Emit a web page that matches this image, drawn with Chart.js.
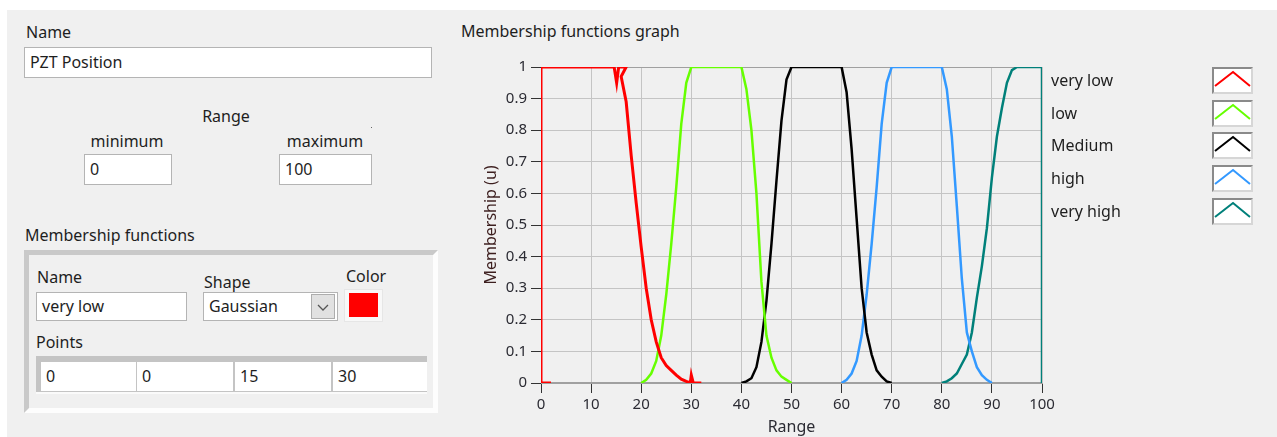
<!DOCTYPE html>
<html>
<head>
<meta charset="utf-8">
<script src="https://cdn.jsdelivr.net/npm/chart.js@4.4.1/dist/chart.umd.min.js"></script>
<style>
  body { margin: 0; width: 1277px; height: 437px; overflow: hidden; background: #fff;
         font-family: "Noto Sans", sans-serif; font-size: 16px; color: #1e1e1e; }
  #panel { position: absolute; left: 7px; top: 10px; right: 0; bottom: 0; background: #f0f0f0; }
  .lbl { position: absolute; white-space: nowrap; line-height: 18px; }
  .ctr { transform: translateX(-50%); }
  .box { position: absolute; background: #fff; border: 1px solid #b4b4b4; box-sizing: border-box;
         padding-left: 5px; white-space: nowrap; }
  #cluster { position: absolute; left: 24px; top: 250px; width: 414px; height: 163px; box-sizing: border-box;
             border: 5px solid; border-color: #c9c9c9 #fdfdfd #fdfdfd #c9c9c9; }
  #arr { position: absolute; left: 36px; top: 356px; width: 391px; height: 38px; background: #c4c4c4;
         border-bottom: 2px solid #fafafa; box-sizing: border-box; }
  .cell { position: absolute; top: 6px; height: 29px; background: #fff; line-height: 29px; padding-left: 5px; box-sizing: border-box; }
  #chartBox { position: absolute; left: 456px; top: 40px; width: 821px; height: 397px; }
  .lgName { position: absolute; left: 1051px; white-space: nowrap; line-height: 18px; }
  .lgIcon { position: absolute; left: 1212px; width: 41px; height: 27px; box-sizing: border-box; background: #fff;
            border: 2px solid; border-color: #8a8a8a #d6d6d6 #d6d6d6 #8a8a8a; }
</style>
</head>
<body>
<div id="panel"></div>

<div class="lbl" style="left:26px;top:23px">Name</div>
<div class="box" style="left:24px;top:47px;width:408px;height:31px;line-height:29px">PZT Position</div>

<div class="lbl ctr" style="left:226px;top:107px">Range</div>
<div class="lbl ctr" style="left:127px;top:132px">minimum</div>
<div class="box" style="left:84px;top:154px;width:88px;height:31px;line-height:29px">0</div>
<div class="lbl ctr" style="left:325px;top:132px">maximum</div>
<div class="box" style="left:279px;top:154px;width:93px;height:31px;line-height:29px">100</div>
<div style="position:absolute;left:371px;top:127px;width:1px;height:1px;background:#666"></div>

<div class="lbl" style="left:25px;top:226px">Membership functions</div>
<div id="cluster"></div>
<div class="lbl" style="left:37px;top:268px">Name</div>
<div class="box" style="left:36px;top:292px;width:151px;height:29px;line-height:27px">very low</div>
<div class="lbl" style="left:204px;top:273px">Shape</div>
<div class="box" style="left:203px;top:292px;width:135px;height:29px;line-height:27px">Gaussian</div>
<div style="position:absolute;left:311px;top:294px;width:24px;height:25px;box-sizing:border-box;background:#e1e1e1;border:1px solid #adadad">
  <svg width="22" height="23" style="position:absolute;left:0;top:0"><polyline points="6,10 11,15 16,10" fill="none" stroke="#555" stroke-width="1.3"/></svg>
</div>
<div class="lbl" style="left:346px;top:267px">Color</div>
<div style="position:absolute;left:344px;top:289px;width:39px;height:33px;box-sizing:border-box;background:#f8f8f8;border:1px solid #e6e6e6"></div>
<div style="position:absolute;left:349px;top:293px;width:29px;height:24px;background:#ff0000"></div>
<div class="lbl" style="left:36px;top:333px">Points</div>
<div id="arr">
  <div class="cell" style="left:5px;width:95px">0</div>
  <div class="cell" style="left:101px;width:96px">0</div>
  <div class="cell" style="left:199px;width:96px">15</div>
  <div class="cell" style="left:297px;width:94px">30</div>
</div>

<div class="lbl" style="left:461px;top:22px">Membership functions graph</div>
<div id="chartBox"><canvas id="mfChart"></canvas></div>
<div id="legend"></div>

<script>
// membership function curves
const seriesNames = ['very low', 'low', 'Medium', 'high', 'very high'];
const seriesColors = ['#ff0000', '#66ff00', '#000000', '#3399ff', '#00807a'];

const veryLowX = [2, 0, 0, 14.6, 15.1, 15.5, 17, 16, 17, 18, 19, 20, 21, 22, 23, 24, 25, 26, 27, 28, 29, 29.8, 30, 30.4, 32];
const veryLowY = [0, 0, 1, 1, 0.95, 1, 1, 0.97, 0.89, 0.72, 0.57, 0.43, 0.3, 0.2, 0.13, 0.08, 0.055, 0.04, 0.025, 0.012, 0.005, 0, 0.025, 0, 0];

const lowX = [20, 21, 22, 23, 24, 25, 26, 27, 28, 29, 30, 40, 41, 42, 43, 44, 45, 46, 47, 48, 49, 50];
const lowY = [0, 0.01, 0.03, 0.07, 0.15, 0.28, 0.44, 0.62, 0.82, 0.95, 1, 1, 0.93, 0.8, 0.6, 0.32, 0.15, 0.08, 0.04, 0.02, 0.01, 0];

const mediumX = [40, 41, 42, 43, 44, 45, 46, 47, 48, 49, 50, 60, 61, 62, 63, 64, 65, 66, 67, 68, 69, 70];
const mediumY = [0, 0.005, 0.015, 0.05, 0.13, 0.26, 0.44, 0.64, 0.83, 0.96, 1, 1, 0.92, 0.74, 0.52, 0.3, 0.16, 0.09, 0.04, 0.02, 0.005, 0];

const highX = [60, 61, 62, 63, 64, 65, 66, 67, 68, 69, 70, 80, 81, 82, 83, 84, 85, 86, 87, 88, 89, 90];
const highY = [0, 0.01, 0.03, 0.07, 0.15, 0.28, 0.44, 0.62, 0.82, 0.95, 1, 1, 0.93, 0.78, 0.56, 0.33, 0.16, 0.1, 0.05, 0.025, 0.01, 0];

const veryHighX = [80, 81, 82, 83, 84, 85, 86, 87, 88, 89, 90, 91, 92, 93, 94, 95, 100, 100];
const veryHighY = [0, 0.005, 0.015, 0.03, 0.06, 0.09, 0.16, 0.27, 0.37, 0.49, 0.65, 0.78, 0.87, 0.95, 0.99, 1, 1, 0];

const xTickValues = [0, 10, 20, 30, 40, 50, 60, 70, 80, 90, 100];
const yTickValues = [0, 0.1, 0.2, 0.3, 0.4, 0.5, 0.6, 0.7, 0.8, 0.9, 1];
const yTickLabels = ['0', '0.1', '0.2', '0.3', '0.4', '0.5', '0.6', '0.7', '0.8', '0.9', '1'];

const allX = [veryLowX, lowX, mediumX, highX, veryHighX];
const allY = [veryLowY, lowY, mediumY, highY, veryHighY];

const TICK_FONT = { family: '"Noto Sans", sans-serif', size: 15 };
const TITLE_FONT = { family: '"Noto Sans", sans-serif', size: 16 };

const datasets = seriesNames.map((name, i) => ({
    label: name,
    data: allX[i].map((x, j) => ({ x: x, y: allY[i][j] })),
    borderColor: seriesColors[i],
    borderWidth: i === 0 ? 3 : 2.5,
    pointRadius: 0,
    tension: 0,
    fill: false
}));

// grey frame round the plot area, under the curves
const plotFrame = {
    id: 'plotFrame',
    beforeDatasetsDraw(chart) {
        const { ctx, chartArea: a } = chart;
        ctx.save();
        ctx.strokeStyle = '#a0a0a0';
        ctx.lineWidth = 1;
        ctx.strokeRect(a.left + 0.5, a.top + 0.5, a.right - a.left - 1, a.bottom - a.top - 1);
        ctx.restore();
    }
};

new Chart(document.getElementById('mfChart'), {
    type: 'line',
    data: { datasets: datasets },
    plugins: [plotFrame],
    options: {
        responsive: true,
        maintainAspectRatio: false,
        animation: false,
        layout: { padding: { left: 0, top: 27, right: 235, bottom: 0 } },
        plugins: { legend: { display: false }, tooltip: { enabled: false } },
        scales: {
            x: {
                type: 'linear', min: 0, max: 100,
                afterBuildTicks: axis => { axis.ticks = xTickValues.map(v => ({ value: v })); },
                afterFit: axis => { axis.height = 54; },
                grid: { color: '#c4c4c4', tickColor: '#333', tickLength: 10 },
                border: { color: '#a0a0a0' },
                ticks: { color: '#2b2b33', font: TICK_FONT, padding: 3, maxRotation: 0 },
                title: { display: true, text: 'Range', color: '#2b2b33', font: TITLE_FONT, padding: { top: 0, bottom: 0 } }
            },
            y: {
                min: 0, max: 1,
                afterBuildTicks: axis => { axis.ticks = yTickValues.map(v => ({ value: v })); },
                afterFit: axis => { axis.width = 85; },
                grid: { color: '#c4c4c4', tickColor: '#333', tickLength: 10 },
                border: { color: '#a0a0a0' },
                ticks: { color: '#2b2b33', font: TICK_FONT, padding: 4, callback: (v, i) => yTickLabels[i] },
                title: { display: true, text: 'Membership (u)', color: '#3c1e1e', font: TITLE_FONT, padding: { top: 26, bottom: 0 } }
            }
        }
    }
});

// plot legend on the right: names plus small sample icons
const legend = document.getElementById('legend');
seriesNames.forEach((name, i) => {
    const top = 67 + i * 32.7;
    const n = document.createElement('div');
    n.className = 'lgName';
    n.style.top = Math.round(top + 4) + 'px';
    n.textContent = name;
    legend.appendChild(n);
    const b = document.createElement('div');
    b.className = 'lgIcon';
    b.style.top = Math.round(top) + 'px';
    b.innerHTML = '<svg width="37" height="23"><polyline points="1,17 19,3 36,17" fill="none" stroke="' +
        seriesColors[i] + '" stroke-width="2"/></svg>';
    legend.appendChild(b);
});
</script>
</body>
</html>
